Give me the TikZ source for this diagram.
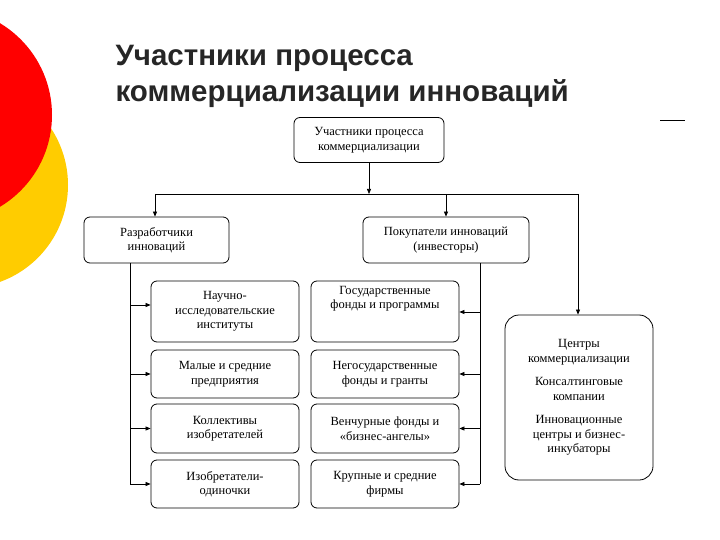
\documentclass[tikz,border=0pt]{standalone}
\usepackage{fontspec}
\setmainfont{Liberation Serif}
\newfontfamily\titlefont{Liberation Sans}
\usetikzlibrary{arrows.meta,positioning}
\definecolor{gold}{RGB}{255,204,0}
\tikzset{
  box/.style={draw,rounded corners=6pt,line width=0.8pt,align=center,
    font=\fontsize{12.5}{14.5}\selectfont,inner sep=2pt},
  link/.style={line width=0.7pt,-{Triangle[length=5pt,width=4pt]}},
  line/.style={line width=0.7pt}
}
\begin{document}
\begin{tikzpicture}[x=1pt,y=-1pt]
  \useasboundingbox (0,0) rectangle (720,540);
  % decoration
  \fill[gold] (-35,185) circle (103);
  \fill[red] (-55,115) circle (107);
  \node[anchor=west,align=left,font=\titlefont\bfseries\fontsize{29.5}{36}\selectfont,text=black!85]
    (title) at (112,76) {Участники процесса\\коммерциализации инноваций};
  \draw[line] (660,120) -- (685,120);
  % top
  \node[box,minimum width=150,minimum height=45] (top) at (369,140)
    {Участники процесса\\коммерциализации};
  \node[box,minimum width=145,minimum height=46] (dev) at (156.5,240)
    {Разработчики\\инноваций};
  \node[box,minimum width=166,minimum height=46] (buy) at (446,240)
    {Покупатели инноваций\\(инвесторы)};
  \node[box,rounded corners=14pt,minimum width=148,minimum height=165] (ctr) at (579,397.5)
    {Центры\\коммерциализации\\[9pt]Консалтинговые\\компании\\[9pt]Инновационные\\центры и бизнес-\\инкубаторы};
  % columns
  \node[box,minimum width=148,minimum height=61] (l1) at (225,311.5) {Научно-\\исследовательские\\институты};
  \node[box,minimum width=148,minimum height=48] (l2) at (225,374) {Малые и средние\\предприятия};
  \node[box,minimum width=148,minimum height=49] (l3) at (225,428.5) {Коллективы\\изобретателей};
  \node[box,minimum width=148,minimum height=48] (l4) at (225,484) {Изобретатели-\\одиночки};
  \node[box,minimum width=148,minimum height=61] (r1) at (385,311.5) {Государственные\\фонды и программы\\[14pt]};
  \node[box,minimum width=148,minimum height=48] (r2) at (385,374) {Негосударственные\\фонды и гранты};
  \node[box,minimum width=148,minimum height=49] (r3) at (385,428.5) {Венчурные фонды и\\«бизнес-ангелы»};
  \node[box,minimum width=148,minimum height=48] (r4) at (385,484) {Крупные и средние\\фирмы};
  % connectors
  \coordinate (split) at (369,194);
  \draw[link] (top) -- (split);
  \draw[line] (155,194) -- (578,194);
  \draw[link] (155,194) -- (dev.north -| 155,0);
  \draw[link] (446,194) -- (buy.north);
  \draw[link] (578,194) -- (ctr.north -| 578,0);
  \draw[line] (dev.south -| 130,0) -- (130,484);
  \foreach \n/\y in {l1/305,l2/374,l3/428.5,l4/484}
    \draw[link] (130,\y) -- (\n.west |- 0,\y);
  \draw[line] (buy.south -| 480,0) -- (480,484);
  \foreach \n/\y in {r1/312,r2/374,r3/428.5,r4/484}
    \draw[link] (480,\y) -- (\n.east |- 0,\y);
\end{tikzpicture}
\end{document}
